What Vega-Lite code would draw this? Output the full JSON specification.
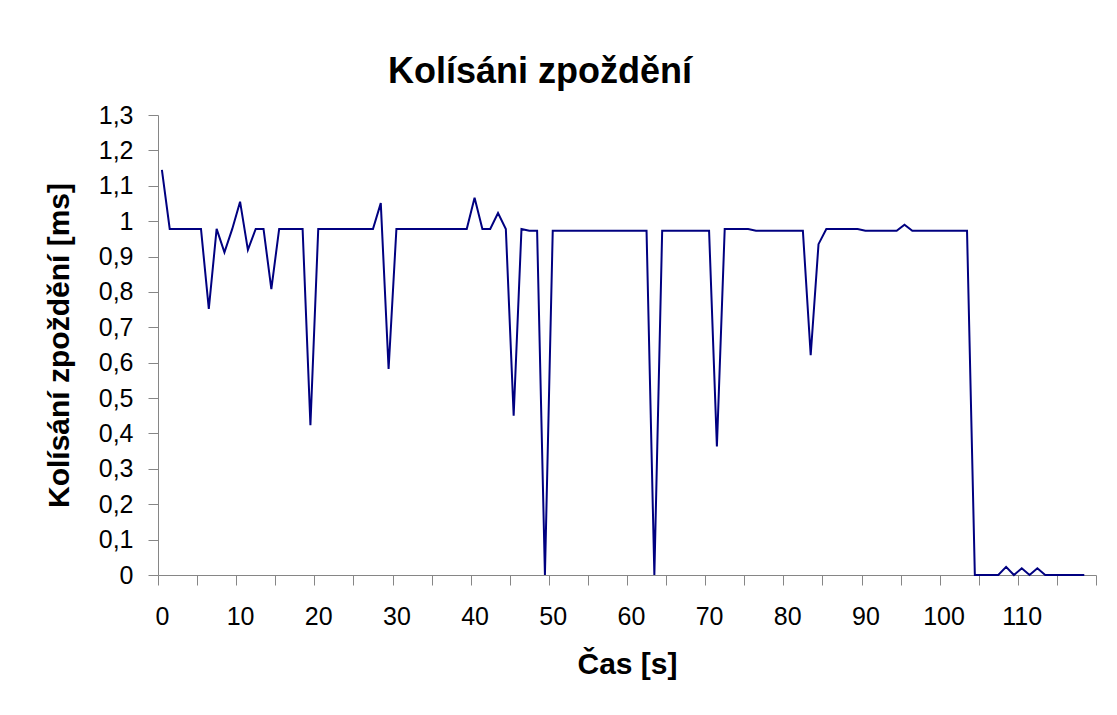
{
  "$schema": "https://vega.github.io/schema/vega-lite/v6.json",
  "width": 938,
  "height": 460,
  "autosize": "none",
  "padding": {"left": 158, "top": 115, "right": 21, "bottom": 140},
  "background": "white",
  "title": {
    "text": "Kolísáni zpoždění",
    "font": "Liberation Sans",
    "fontSize": 36,
    "fontWeight": "bold",
    "color": "black",
    "anchor": "middle",
    "frame": "group",
    "dx": -87,
    "offset": 12
  },
  "data": {
    "values": [
      {"t": 0, "v": 1.145}, {"t": 1, "v": 0.978}, {"t": 2, "v": 0.978}, {"t": 3, "v": 0.978}, {"t": 4, "v": 0.978},
      {"t": 5, "v": 0.978}, {"t": 6, "v": 0.752}, {"t": 7, "v": 0.978}, {"t": 8, "v": 0.912}, {"t": 9, "v": 0.978},
      {"t": 10, "v": 1.055}, {"t": 11, "v": 0.919}, {"t": 12, "v": 0.978}, {"t": 13, "v": 0.978}, {"t": 14, "v": 0.808},
      {"t": 15, "v": 0.978}, {"t": 16, "v": 0.978}, {"t": 17, "v": 0.978}, {"t": 18, "v": 0.978}, {"t": 19, "v": 0.423},
      {"t": 20, "v": 0.978}, {"t": 21, "v": 0.978}, {"t": 22, "v": 0.978}, {"t": 23, "v": 0.978}, {"t": 24, "v": 0.978},
      {"t": 25, "v": 0.978}, {"t": 26, "v": 0.978}, {"t": 27, "v": 0.978}, {"t": 28, "v": 1.051}, {"t": 29, "v": 0.582},
      {"t": 30, "v": 0.978}, {"t": 31, "v": 0.978}, {"t": 32, "v": 0.978}, {"t": 33, "v": 0.978}, {"t": 34, "v": 0.978},
      {"t": 35, "v": 0.978}, {"t": 36, "v": 0.978}, {"t": 37, "v": 0.978}, {"t": 38, "v": 0.978}, {"t": 39, "v": 0.978},
      {"t": 40, "v": 1.066}, {"t": 41, "v": 0.978}, {"t": 42, "v": 0.978}, {"t": 43, "v": 1.023}, {"t": 44, "v": 0.978},
      {"t": 45, "v": 0.45}, {"t": 46, "v": 0.978}, {"t": 47, "v": 0.973}, {"t": 48, "v": 0.973}, {"t": 49, "v": 0},
      {"t": 50, "v": 0.973}, {"t": 51, "v": 0.973}, {"t": 52, "v": 0.973}, {"t": 53, "v": 0.973}, {"t": 54, "v": 0.973},
      {"t": 55, "v": 0.973}, {"t": 56, "v": 0.973}, {"t": 57, "v": 0.973}, {"t": 58, "v": 0.973}, {"t": 59, "v": 0.973},
      {"t": 60, "v": 0.973}, {"t": 61, "v": 0.973}, {"t": 62, "v": 0.973}, {"t": 63, "v": 0}, {"t": 64, "v": 0.973},
      {"t": 65, "v": 0.973}, {"t": 66, "v": 0.973}, {"t": 67, "v": 0.973}, {"t": 68, "v": 0.973}, {"t": 69, "v": 0.973},
      {"t": 70, "v": 0.973}, {"t": 71, "v": 0.363}, {"t": 72, "v": 0.978}, {"t": 73, "v": 0.978}, {"t": 74, "v": 0.978},
      {"t": 75, "v": 0.978}, {"t": 76, "v": 0.973}, {"t": 77, "v": 0.973}, {"t": 78, "v": 0.973}, {"t": 79, "v": 0.973},
      {"t": 80, "v": 0.973}, {"t": 81, "v": 0.973}, {"t": 82, "v": 0.973}, {"t": 83, "v": 0.621}, {"t": 84, "v": 0.935},
      {"t": 85, "v": 0.978}, {"t": 86, "v": 0.978}, {"t": 87, "v": 0.978}, {"t": 88, "v": 0.978}, {"t": 89, "v": 0.978},
      {"t": 90, "v": 0.973}, {"t": 91, "v": 0.973}, {"t": 92, "v": 0.973}, {"t": 93, "v": 0.973}, {"t": 94, "v": 0.973},
      {"t": 95, "v": 0.99}, {"t": 96, "v": 0.973}, {"t": 97, "v": 0.973}, {"t": 98, "v": 0.973}, {"t": 99, "v": 0.973},
      {"t": 100, "v": 0.973}, {"t": 101, "v": 0.973}, {"t": 102, "v": 0.973}, {"t": 103, "v": 0.973}, {"t": 104, "v": 0},
      {"t": 105, "v": 0}, {"t": 106, "v": 0}, {"t": 107, "v": 0}, {"t": 108, "v": 0.023}, {"t": 109, "v": 0},
      {"t": 110, "v": 0.019}, {"t": 111, "v": 0}, {"t": 112, "v": 0.019}, {"t": 113, "v": 0}, {"t": 114, "v": 0},
      {"t": 115, "v": 0}, {"t": 116, "v": 0}, {"t": 117, "v": 0}, {"t": 118, "v": 0}
    ]
  },
  "mark": {"type": "line", "color": "#000080", "strokeWidth": 2},
  "encoding": {
    "x": {
      "field": "t",
      "type": "quantitative",
      "scale": {"domain": [-0.5, 119.5], "nice": false, "zero": false},
      "axis": {
        "title": "Čas [s]",
        "values": [-0.5, 4.5, 9.5, 14.5, 19.5, 24.5, 29.5, 34.5, 39.5, 44.5, 49.5, 54.5, 59.5, 64.5, 69.5, 74.5, 79.5, 84.5, 89.5, 94.5, 99.5, 104.5, 109.5, 114.5, 119.5],
        "labelExpr": "(datum.value + 0.5) % 10 == 0 && datum.value < 115 ? format(datum.value + 0.5, 'd') : ''",
        "labelOffset": 3.9,
        "grid": false,
        "domainColor": "#868686",
        "tickColor": "#868686",
        "tickSize": 10,
        "labelFont": "Liberation Sans",
        "labelFontSize": 25,
        "labelColor": "black",
        "labelPadding": 19,
        "labelOverlap": false,
        "labelFlush": false,
        "titleFont": "Liberation Sans",
        "titleFontSize": 30,
        "titleFontWeight": "bold",
        "titleColor": "black",
        "titlePadding": 20
      }
    },
    "y": {
      "field": "v",
      "type": "quantitative",
      "scale": {"domain": [0, 1.3], "nice": false},
      "axis": {
        "title": "Kolísání zpoždění [ms]",
        "values": [0, 0.1, 0.2, 0.3, 0.4, 0.5, 0.6, 0.7, 0.8, 0.9, 1, 1.1, 1.2, 1.3],
        "labelExpr": "replace(format(datum.value, '.1~f'), '.', ',')",
        "grid": false,
        "domainColor": "#868686",
        "tickColor": "#868686",
        "tickSize": 10,
        "labelFont": "Liberation Sans",
        "labelFontSize": 25,
        "labelColor": "black",
        "labelPadding": 15,
        "labelOverlap": false,
        "labelFlush": false,
        "titleFont": "Liberation Sans",
        "titleFontSize": 30,
        "titleFontWeight": "bold",
        "titleColor": "black",
        "titlePadding": 24
      }
    }
  },
  "config": {"view": {"stroke": null}}
}
